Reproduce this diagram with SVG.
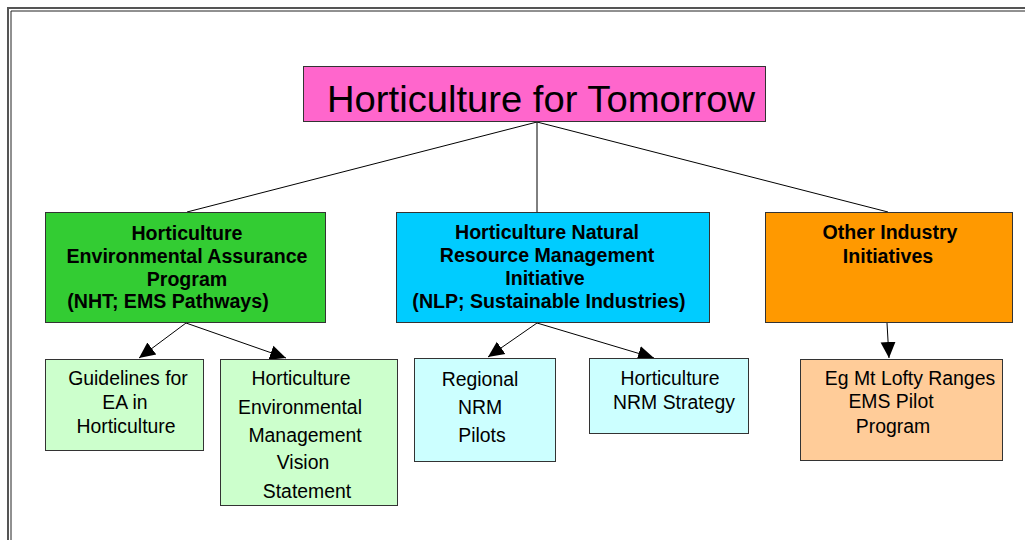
<svg xmlns="http://www.w3.org/2000/svg" width="1025" height="540" viewBox="0 0 1025 540">
<style>
.box{stroke:#333;stroke-width:1}
.b{font-family:"Liberation Sans",Arial,sans-serif;font-weight:bold;font-size:19.6px;fill:#000;text-anchor:middle}
.r{font-family:"Liberation Sans",Arial,sans-serif;font-size:19.4px;fill:#000;text-anchor:middle}
.c{stroke:#000;stroke-width:1;fill:none}
</style>
<defs>
<marker id="ah" markerUnits="userSpaceOnUse" markerWidth="17" markerHeight="17" viewBox="0 0 17 17" refX="16" refY="8.5" orient="auto">
<path d="M0,1 L16,8.5 L0,16 Z" fill="#000"/>
</marker>
</defs>
<rect x="0" y="0" width="1025" height="540" fill="#fff"/>
<g id="frame">
<path d="M8,560 L8,8 L1040,8" fill="none" stroke="#555" stroke-width="2"/>
<path d="M11,560 L11,11 L1040,11" fill="none" stroke="#222" stroke-width="1"/>
</g>
<g id="connectors">
<line class="c" x1="537" y1="122" x2="187" y2="212"/>
<line class="c" x1="537" y1="122" x2="537" y2="212"/>
<line class="c" x1="537" y1="122" x2="888" y2="212"/>
<line class="c" x1="186" y1="323" x2="139" y2="358" marker-end="url(#ah)"/>
<line class="c" x1="186" y1="323" x2="286" y2="358" marker-end="url(#ah)"/>
<line class="c" x1="537" y1="323" x2="488" y2="357" marker-end="url(#ah)"/>
<line class="c" x1="537" y1="323" x2="654" y2="358" marker-end="url(#ah)"/>
<line class="c" x1="887" y1="323" x2="889" y2="358" marker-end="url(#ah)"/>
</g>
<g id="title">
<rect class="box" x="303.5" y="66.5" width="462" height="55" fill="#FF66CC"/>
<text x="327" y="112" font-family="Liberation Sans, Arial, sans-serif" font-size="37.5" textLength="428" lengthAdjust="spacingAndGlyphs">Horticulture for Tomorrow</text>
</g>
<g id="ea-program">
<rect class="box" x="45.5" y="212.5" width="280" height="110" fill="#33CC33"/>
<text class="b" x="187" y="240">Horticulture</text>
<text class="b" x="187" y="263">Environmental Assurance</text>
<text class="b" x="187" y="286">Program</text>
<text class="b" x="168" y="308">(NHT; EMS Pathways)</text>
</g>
<g id="nrm-initiative">
<rect class="box" x="396.5" y="212.5" width="313" height="110" fill="#00CCFF"/>
<text class="b" x="547" y="239">Horticulture Natural</text>
<text class="b" x="547" y="262">Resource Management</text>
<text class="b" x="545" y="285">Initiative</text>
<text class="b" x="549" y="308">(NLP; Sustainable Industries)</text>
</g>
<g id="other-initiatives">
<rect class="box" x="765.5" y="212.5" width="247" height="110" fill="#FF9900"/>
<text class="b" x="890" y="239">Other Industry</text>
<text class="b" x="888" y="263">Initiatives</text>
</g>
<g id="guidelines">
<rect class="box" x="45.5" y="359.5" width="158" height="91" fill="#CCFFCC"/>
<text class="r" x="128" y="385">Guidelines for</text>
<text class="r" x="125" y="409">EA in</text>
<text class="r" x="126" y="433">Horticulture</text>
</g>
<g id="vision">
<rect class="box" x="220.5" y="359.5" width="177" height="146" fill="#CCFFCC"/>
<text class="r" x="301" y="385">Horticulture</text>
<text class="r" x="300" y="414">Environmental</text>
<text class="r" x="305" y="442">Management</text>
<text class="r" x="303" y="469">Vision</text>
<text class="r" x="307" y="498">Statement</text>
</g>
<g id="regional-nrm">
<rect class="box" x="414.5" y="358.5" width="141" height="103" fill="#CCFFFF"/>
<text class="r" x="480" y="386">Regional</text>
<text class="r" x="480" y="414">NRM</text>
<text class="r" x="482" y="442">Pilots</text>
</g>
<g id="nrm-strategy">
<rect class="box" x="589.5" y="358.5" width="159" height="75" fill="#CCFFFF"/>
<text class="r" x="670" y="385">Horticulture</text>
<text class="r" x="674" y="409">NRM Strategy</text>
</g>
<g id="mt-lofty">
<rect class="box" x="800.5" y="359.5" width="202" height="101" fill="#FFCC99"/>
<text class="r" x="910" y="385">Eg Mt Lofty Ranges</text>
<text class="r" x="891" y="408">EMS Pilot</text>
<text class="r" x="893" y="433">Program</text>
</g>
</svg>
